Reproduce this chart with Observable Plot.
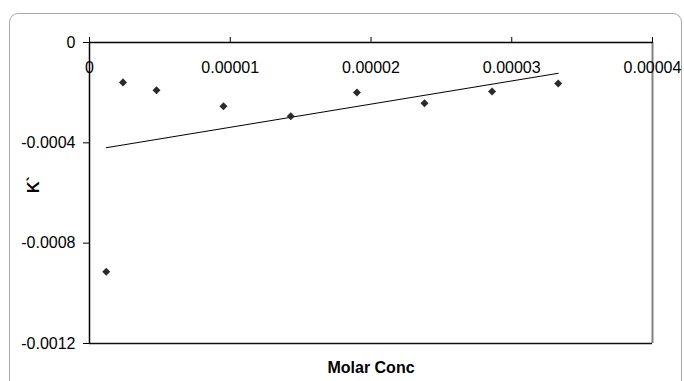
<!DOCTYPE html>
<html>
<head>
<meta charset="utf-8">
<script src="https://cdn.jsdelivr.net/npm/d3@7"></script>
<script src="https://cdn.jsdelivr.net/npm/@observablehq/plot@0.6"></script>
<style>
  html, body { margin: 0; padding: 0; background: #fff; }
  #wrap { position: relative; width: 684px; height: 381px; overflow: hidden; }
  #frame { position: absolute; left: 9px; top: 13px; width: 673px; height: 400px;
           border: 1px solid #a8a8a8; border-radius: 9px; box-sizing: border-box; }
  #chart { position: absolute; left: 0; top: 0; }
</style>
</head>
<body>
<div id="wrap"><div id="frame"></div><div id="chart"></div></div>
<script>
const molarConc = [0.00000119, 0.00000238, 0.00000476, 0.00000952, 0.0000143, 0.0000190, 0.0000238, 0.0000286, 0.0000333];
const kPrime = [-0.000914, -0.000159, -0.000190, -0.000254, -0.000294, -0.000199, -0.000242, -0.000195, -0.000163];
const xTicks = [0, 0.00001, 0.00002, 0.00003, 0.00004];
const xTickLabels = ["0", "0.00001", "0.00002", "0.00003", "0.00004"];
const yTicks = [0, -0.0004, -0.0008, -0.0012];
const yTickLabels = ["0", "-0.0004", "-0.0008", "-0.0012"];

const data = molarConc.map((x, i) => ({x, y: kPrime[i]}));
const xLab = xTicks.map((v, i) => ({v, label: xTickLabels[i]}));

const font = "'Liberation Sans', Arial, sans-serif";

const chart = Plot.plot({
  width: 684,
  height: 381,
  marginLeft: 89,
  marginRight: 32,
  marginTop: 42,
  marginBottom: 38,
  style: {fontFamily: font, fontSize: "16px", background: "transparent", color: "#000"},
  x: {domain: [0, 0.00004], label: null},
  y: {domain: [-0.0012, 0], label: null},
  marks: [
    Plot.ruleX([0.00004], {stroke: "#808080", strokeWidth: 2}),
    Plot.ruleY([-0.0012], {stroke: "#111", strokeWidth: 1.5}),
    Plot.ruleY([0], {stroke: "#000", strokeWidth: 1.5}),
    Plot.ruleX([0], {stroke: "#000", strokeWidth: 1.5}),
    Plot.axisY({ticks: yTicks, tickSize: 6, tickPadding: 8, tickFormat: (d, i) => yTickLabels[i],
                fontSize: 16, label: null, stroke: "#000"}),
    Plot.axisX({anchor: "top", ticks: xTicks, tickSize: 6, tickFormat: null, text: null, label: null}),
    Plot.text(xLab, {x: "v", y: () => 0, text: "label", dy: 25, fontSize: 16, fill: "#000"}),
    Plot.linearRegressionY(data, {x: "x", y: "y", ci: 0, stroke: "#000", strokeWidth: 1}),
    Plot.dot(data, {x: "x", y: "y", symbol: "square", rotate: 45, r: 3.2, fill: "#2a2a2a", stroke: "none"}),
    Plot.text(["Molar Conc"], {frameAnchor: "bottom", dy: 29, fontWeight: "bold", fontSize: 16,
                               fill: "#000", style: "letter-spacing:1.4px"}),
    Plot.text(["K`"], {frameAnchor: "left", dx: -56, dy: 0, rotate: -90, fontWeight: "bold", fontSize: 16, fill: "#000"})
  ]
});
document.getElementById("chart").appendChild(chart);
</script>
</body>
</html>
